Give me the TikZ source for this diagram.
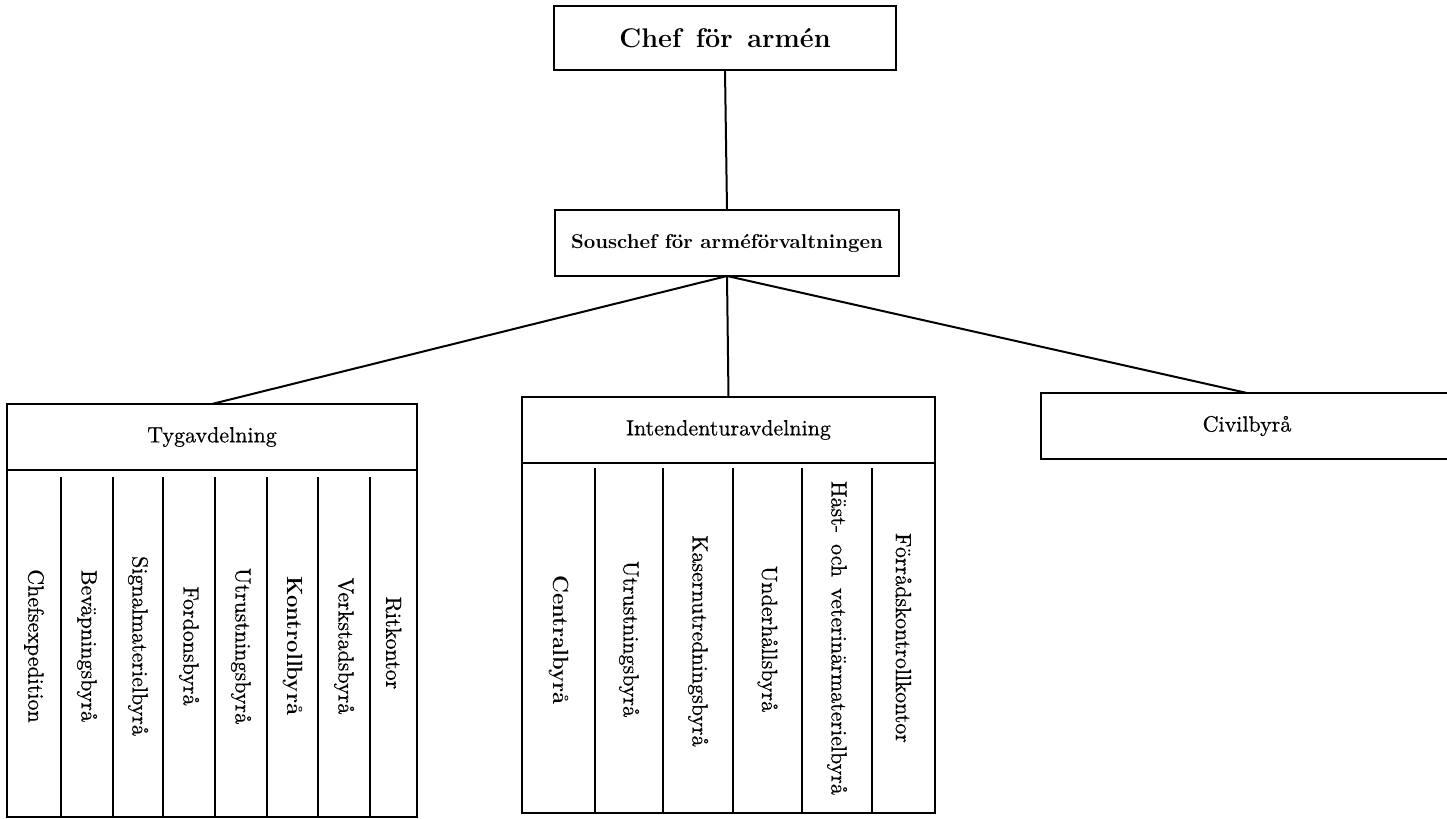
\documentclass[tikz,border=0pt]{standalone}
\usepackage{fontspec}
\newfontfamily\printfont{Latin Modern Roman}[FakeBold=0.5]
\begin{document}
\begin{tikzpicture}[x=0.5pt,y=-0.5pt,
  box/.style={draw,line width=1.2pt,inner sep=0pt,outer sep=0pt},
  conn/.style={line width=1pt},
  divider/.style={line width=1pt},
  coltext/.style={rotate=-90,inner sep=0pt,font=\printfont\fontsize{11}{13}\selectfont},
  headtext/.style={font=\printfont\fontsize{11}{13}\selectfont}]
\useasboundingbox (0,0) rectangle (1447,819);
\fill[white] (0,0) rectangle (1447,819);

% top
\node[box,minimum width=171pt,minimum height=32pt,font=\fontsize{13.5}{16}\selectfont\bfseries] (chef) at (725,38) {Chef\, för\, armén};
\node[box,minimum width=172pt,minimum height=33pt,font=\fontsize{10}{12}\selectfont\bfseries] (sous) at (727,243) {Souschef för arméförvaltningen};

% Tygavdelning
\node[box,headtext,minimum width=205pt,minimum height=33pt] (tyg) at (212,437) {Tygavdelning};
\node[box,anchor=north,minimum width=205pt,minimum height=173.5pt] (tygbody) at (tyg.south) {};
\foreach \x in {61,113,163,215,267,318,370}{
  \draw[divider] (\x,477) -- (\x,817);
}
\node[coltext] (t1) at (34,646) {Chefsexpedition};
\node[coltext] (t2) at (87,646) {Beväpningsbyrå};
\node[coltext] (t3) at (138,646) {Signalmaterielbyrå};
\node[coltext] (t4) at (189,646) {Fordonsbyrå};
\node[coltext] (t5) at (241,646) {Utrustningsbyrå};
\node[coltext,font=\fontsize{11}{13}\selectfont\bfseries] (t6) at (292.5,646) {Kontrollbyrå};
\node[coltext] (t7) at (344,646) {Verkstadsbyrå};
\node[coltext] (t8) at (393.5,643) {Ritkontor};

% Intendenturavdelning
\node[box,headtext,minimum width=206.5pt,minimum height=33pt] (int) at (728.5,430) {Intendenturavdelning};
\node[box,anchor=north,minimum width=206.5pt,minimum height=175pt] (intbody) at (int.south) {};
\foreach \x in {595,663,733,802,872}{
  \draw[divider] (\x,468) -- (\x,813);
}
\node[coltext,font=\fontsize{11}{13}\selectfont\bfseries] (i1) at (558.5,640) {Centralbyrå};
\node[coltext] (i2) at (629,639) {Utrustningsbyrå};
\node[coltext] (i3) at (698,641) {Kasernutredningsbyrå};
\node[coltext] (i4) at (767.5,639) {Underhållsbyrå};
\node[coltext] (i5) at (837,638) {Häst-\, och\, veterinärmaterielbyrå};
\node[coltext] (i6) at (903.5,638) {Förrådskontrollkontor};

% Civilbyrå
\node[box,headtext,minimum width=206pt,minimum height=33pt] (civ) at (1247,426) {Civilbyrå};

% connectors
\draw[conn] (chef.south) -- (sous.north);
\draw[conn] (sous.south) -- (tyg.north);
\draw[conn] (sous.south) -- (int.north);
\draw[conn] (sous.south) -- (civ.north);
\end{tikzpicture}
\end{document}
